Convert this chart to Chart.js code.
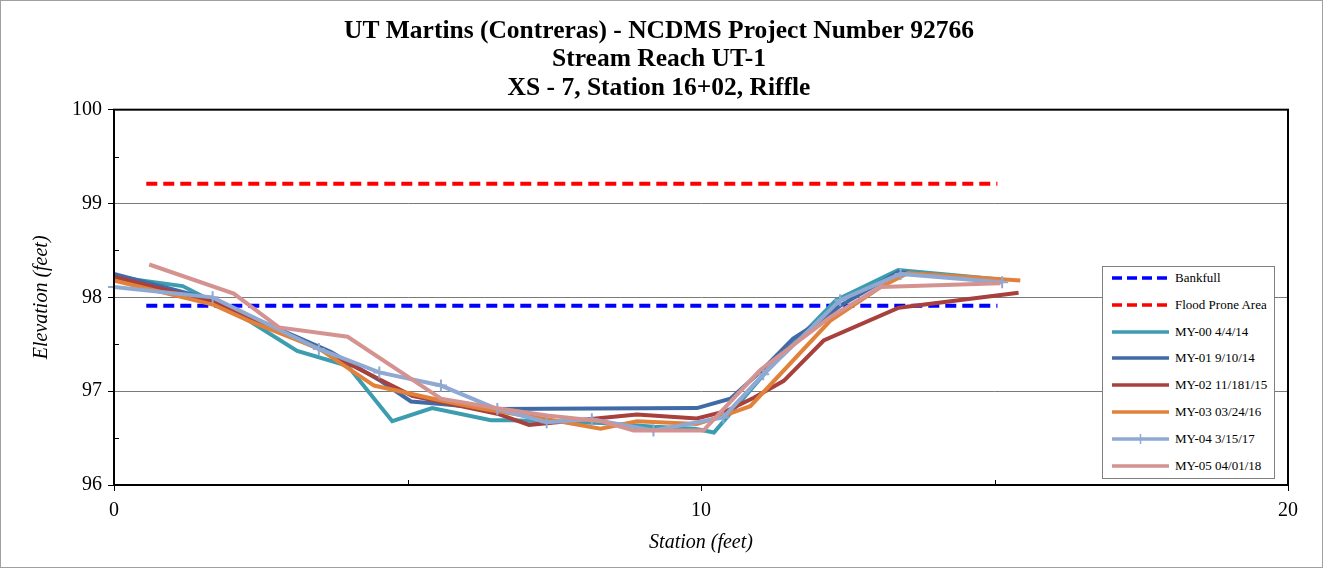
<!DOCTYPE html>
<html>
<head>
<meta charset="utf-8">
<script src="https://cdn.jsdelivr.net/npm/chart.js@4.4.1/dist/chart.umd.min.js"></script>
<style>
    body { margin: 0; background: #fff; }
    #wrap { position: relative; width: 1321px; height: 566px; border: 1px solid #a0a0a0; }
    #chart { position: absolute; left: 0; top: 0; }
    #legend {
        position: absolute; left: 1101px; top: 265px; width: 171px; height: 211px;
        background: #fff; border: 1px solid #808080;
        font-family: "Liberation Serif", "Times New Roman", serif; font-size: 13px; color: #000;
    }
    .item { position: absolute; left: 9px; height: 16px; display: flex; align-items: center; }
    .item svg { margin-right: 6px; }
</style>
</head>
<body>
<div id="wrap">
    <canvas id="chart" width="1321" height="566"></canvas>
    <div id="legend"></div>
</div>
<script>
// chart values (station in feet, elevation in feet)
const titleLines = ["UT Martins (Contreras) - NCDMS Project Number 92766", "Stream Reach UT-1", "XS - 7, Station 16+02, Riffle"];
const xTickLabels = [0, 10, 20];
const yTickLabels = [96, 97, 98, 99, 100];

const bankfullX = [0.55, 15.05];
const bankfullY = [97.91, 97.91];

const floodX = [0.55, 15.05];
const floodY = [99.21, 99.21];

const my00X = [0, 1.17, 1.7, 2.3, 3.12, 3.98, 4.74, 5.42, 6.42, 6.76, 8.3, 9.2, 9.9, 10.22, 11.1, 12.3, 13.36, 15.1];
const my00Y = [98.22, 98.12, 97.95, 97.75, 97.43, 97.27, 96.68, 96.82, 96.69, 96.69, 96.66, 96.62, 96.6, 96.56, 97.2, 97.97, 98.29, 98.19];

const my01X = [0, 1.7, 2.3, 3.69, 4.54, 5.06, 5.62, 6.47, 9.93, 10.5, 11.0, 11.57, 11.92, 12.37, 13.36, 15.1];
const my01Y = [98.25, 97.97, 97.8, 97.42, 97.11, 96.89, 96.86, 96.81, 96.82, 96.92, 97.2, 97.56, 97.7, 97.91, 98.27, 98.18];

const my02X = [0, 1.7, 2.3, 3.6, 4.51, 5.08, 6.53, 7.07, 8.91, 9.93, 10.44, 10.9, 11.41, 12.09, 13.37, 15.41];
const my02Y = [98.22, 97.95, 97.78, 97.42, 97.13, 96.95, 96.76, 96.64, 96.75, 96.71, 96.79, 96.93, 97.11, 97.54, 97.89, 98.05];

const my03X = [0, 1.7, 2.3, 3.5, 4.43, 5.57, 6.3, 7.38, 8.29, 8.91, 9.93, 10.39, 10.84, 12.2, 13.06, 13.53, 15.44];
const my03Y = [98.18, 97.92, 97.75, 97.45, 97.06, 96.9, 96.81, 96.7, 96.6, 96.68, 96.65, 96.74, 96.84, 97.75, 98.11, 98.26, 98.18];

const my04X = [0, 1.68, 3.49, 4.52, 5.57, 6.53, 7.37, 8.14, 9.19, 10.38, 11.06, 12.37, 13.4, 15.13];
const my04Y = [98.11, 98.0, 97.45, 97.2, 97.06, 96.81, 96.67, 96.7, 96.58, 96.72, 97.18, 97.97, 98.25, 98.16];

const my05X = [0.6, 2.04, 2.81, 3.98, 5.57, 6.5, 7.38, 8.3, 8.85, 10.04, 11.0, 12.2, 13.06, 15.1];
const my05Y = [98.35, 98.04, 97.68, 97.58, 96.92, 96.82, 96.74, 96.68, 96.58, 96.58, 97.22, 97.79, 98.11, 98.15];

const serif = "'Liberation Serif', 'Times New Roman', serif";

function pts(xs, ys) {
    return xs.map((x, i) => ({ x: x, y: ys[i] }));
}

const series = [
    { label: "Bankfull", x: bankfullX, y: bankfullY, color: "#0000ff", dash: [11, 6], order: 7 },
    { label: "Flood Prone Area", x: floodX, y: floodY, color: "#ff0000", dash: [11, 6], order: 6 },
    { label: "MY-00 4/4/14", x: my00X, y: my00Y, color: "#3c9cb0", order: 5 },
    { label: "MY-01 9/10/14", x: my01X, y: my01Y, color: "#416ba6", order: 4 },
    { label: "MY-02 11/181/15", x: my02X, y: my02Y, color: "#a8403d", order: 3 },
    { label: "MY-03 03/24/16", x: my03X, y: my03Y, color: "#e2823a", order: 2 },
    { label: "MY-04 3/15/17", x: my04X, y: my04Y, color: "#8fa9d2", order: 1, marker: true },
    { label: "MY-05 04/01/18", x: my05X, y: my05Y, color: "#d49391", order: 0 }
];

const datasets = series.map(s => ({
    label: s.label,
    data: pts(s.x, s.y),
    borderColor: s.color,
    backgroundColor: s.color,
    borderWidth: 4,
    borderDash: s.dash || [],
    order: s.order,
    pointStyle: "cross",
    pointRadius: s.marker ? 6 : 0,
    pointBorderWidth: 2,
    pointHoverRadius: 0,
    tension: 0,
    fill: false,
    clip: false
}));

// small inward ticks for the unlabelled steps
const minorTicks = {
    id: "minorTicks",
    afterDraw(chart) {
        const ctx = chart.ctx;
        const xs = chart.scales.x, ys = chart.scales.y;
        ctx.save();
        ctx.strokeStyle = "#000";
        ctx.lineWidth = 1;
        xs.ticks.forEach(t => {
            if (t.value % 10 !== 0) {
                const px = Math.round(xs.getPixelForValue(t.value)) + 0.5;
                ctx.beginPath();
                ctx.moveTo(px, ys.bottom);
                ctx.lineTo(px, ys.bottom - 5);
                ctx.stroke();
            }
        });
        ys.ticks.forEach(t => {
            if (t.value % 1 !== 0) {
                const py = Math.round(ys.getPixelForValue(t.value)) + 0.5;
                ctx.beginPath();
                ctx.moveTo(xs.left, py);
                ctx.lineTo(xs.left + 5, py);
                ctx.stroke();
            }
        });
        // plot frame
        const a = chart.chartArea;
        ctx.lineWidth = 2;
        ctx.strokeRect(a.left, a.top, a.right - a.left, a.bottom - a.top);
        ctx.restore();
    }
};

new Chart(document.getElementById("chart"), {
    type: "line",
    data: { datasets: datasets },
    plugins: [minorTicks],
    options: {
        responsive: false,
        animation: false,
        events: [],
        layout: { padding: { left: 29, right: 34, top: 0, bottom: 12 } },
        plugins: {
            legend: { display: false },
            tooltip: { enabled: false },
            title: {
                display: true,
                text: titleLines,
                color: "#000",
                font: { family: serif, size: 25.5, weight: "bold", lineHeight: 1.12 },
                padding: { top: 16, bottom: 7 }
            }
        },
        scales: {
            x: {
                type: "linear",
                min: 0, max: 20,
                border: { color: "#000", width: 2 },
                grid: {
                    drawOnChartArea: false,
                    tickLength: 6,
                    tickColor: c => (c.tick && c.tick.value % 10 === 0) ? "#000" : "rgba(0,0,0,0)"
                },
                ticks: {
                    stepSize: 5,
                    color: "#000",
                    padding: 8,
                    maxRotation: 0,
                    font: { family: serif, size: 20 },
                    callback: v => xTickLabels.includes(v) ? String(v) : ""
                },
                title: {
                    display: true,
                    text: "Station (feet)",
                    color: "#000",
                    font: { family: serif, size: 20, style: "italic" },
                    padding: { top: 0, bottom: 0 }
                }
            },
            y: {
                min: 96, max: 100,
                border: { color: "#000", width: 2 },
                grid: {
                    color: c => (c.tick && yTickLabels.includes(c.tick.value) && c.tick.value !== 96 && c.tick.value !== 100) ? "#7a7a7a" : "rgba(0,0,0,0)",
                    lineWidth: 1,
                    tickLength: 6,
                    tickColor: c => (c.tick && c.tick.value % 1 === 0) ? "#000" : "rgba(0,0,0,0)"
                },
                ticks: {
                    stepSize: 0.5,
                    color: "#000",
                    padding: 6,
                    font: { family: serif, size: 20 },
                    callback: v => yTickLabels.includes(v) ? String(v) : ""
                },
                title: {
                    display: true,
                    text: "Elevation (feet)",
                    color: "#000",
                    font: { family: serif, size: 20, style: "italic" },
                    padding: { top: 0, bottom: 12 }
                }
            }
        }
    }
});

// legend box drawn over the plot, built from the same series list
const legend = document.getElementById("legend");
series.forEach((s, i) => {
    const item = document.createElement("div");
    item.className = "item";
    item.style.top = (3 + i * 26.8) + "px";
    let svg = '<svg width="57" height="10"><line x1="0" y1="5" x2="57" y2="5" stroke="' + s.color + '" stroke-width="3.5"' +
        (s.dash ? ' stroke-dasharray="10,5"' : '') + '/>';
    if (s.marker) svg += '<line x1="28.5" y1="0" x2="28.5" y2="10" stroke="' + s.color + '" stroke-width="1.5"/>';
    svg += '</svg>';
    item.innerHTML = svg + '<span>' + s.label + '</span>';
    legend.appendChild(item);
});
</script>
</body>
</html>
